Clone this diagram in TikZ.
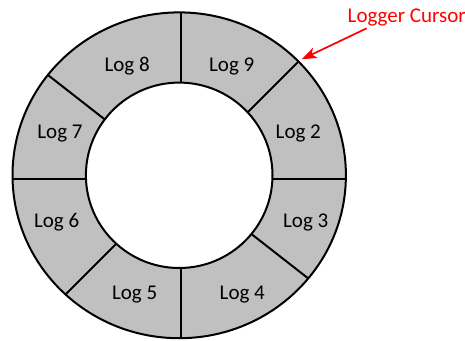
\documentclass[tikz,border=0pt]{standalone}
\usepackage{fontspec}
\setmainfont{Carlito}
\usetikzlibrary{arrows.meta}
\definecolor{ringgray}{RGB}{192,192,192}
\definecolor{cursorred}{RGB}{255,0,0}
\tikzset{
  ringline/.style={line width=2pt, black},
  loglabel/.style={anchor=base, inner sep=0pt, font=\fontsize{21}{25}\selectfont},
  cursorlabel/.style={anchor=base west, inner sep=0pt, text=cursorred, font=\fontsize{21}{25}\selectfont},
  cursorarrow/.style={draw=cursorred, line width=1.7pt, -{Stealth[length=15pt,width=11pt,inset=4pt]}}
}
\begin{document}
\begin{tikzpicture}[x=1pt,y=-1pt]
\useasboundingbox (0,0) rectangle (465,340);
\coordinate (c) at (179.2,175.3);
\coordinate (d) at (181,179);
% ring fill
\fill[ringgray] (c) ellipse [x radius=166.7pt, y radius=162.9pt];
\begin{scope}
  \clip (c) ellipse [x radius=166.7pt, y radius=162.9pt];
  \draw[ringline] (181,-50) -- (181,400);
  \draw[ringline] (-50,179) -- (400,179);
  \draw[ringline] (25.4,334.6) -- (336.6,23.4);
  \draw[ringline] (7.6,43.5) -- (354.4,314.5);
\end{scope}
\fill[white] (c) ellipse [x radius=93.3pt, y radius=92.7pt];
\draw[ringline] (c) ellipse [x radius=166.7pt, y radius=162.9pt];
\draw[ringline] (c) ellipse [x radius=93.3pt, y radius=92.7pt];
% labels
\node[loglabel] (l8) at (127.2,71) {Log 8};
\node[loglabel] (l9) at (231.7,71) {Log 9};
\node[loglabel] (l7) at (60,138) {Log 7};
\node[loglabel] (l2) at (298.3,138) {Log 2};
\node[loglabel] (l6) at (56.7,227.3) {Log 6};
\node[loglabel] (l3) at (305.7,227.3) {Log 3};
\node[loglabel] (l5) at (134.7,299) {Log 5};
\node[loglabel] (l4) at (242.3,299) {Log 4};
% cursor
\node[cursorlabel] (cursor) at (347.5,22) {Logger Cursor};
\coordinate (cstart) at (366.7,28.3);
\coordinate (ctip) at (301.7,59.3);
\draw[cursorarrow] (cstart) -- (ctip);
\end{tikzpicture}
\end{document}
